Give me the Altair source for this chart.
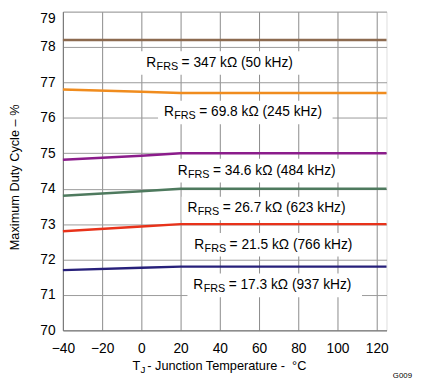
import altair as alt
import pandas as pd

# ---- data ----
temps = [-40, 0, 20, 125]
series_names = ["347 kΩ", "69.8 kΩ", "34.6 kΩ", "26.7 kΩ", "21.5 kΩ", "17.3 kΩ"]
duty_347 = [78.2, 78.2, 78.2, 78.2]
duty_698 = [76.8, 76.74, 76.7, 76.7]
duty_346 = [74.82, 74.93, 75.0, 75.0]
duty_267 = [73.8, 73.93, 74.0, 74.0]
duty_215 = [72.8, 72.93, 73.0, 73.0]
duty_173 = [71.7, 71.77, 71.8, 71.8]
series_colors = ["#8C6A4F", "#F08C1E", "#8B1C8B", "#4E7A5E", "#E8321A", "#27207A"]

NB = "\u00a0"
label_rest = ["= 347 kΩ (50 kHz)", "= 69.8 kΩ (245 kHz)", "= 34.6 kΩ (484 kHz)",
              "= 26.7 kΩ (623 kHz)", "= 21.5 kΩ (766 kHz)", "= 17.3 kΩ (937 kHz)"]
label_x = [2.5, 11.5, 18.5, 23.5, 27.0, 26.5]
label_y = [77.55, 76.15, 74.51, 73.44, 72.42, 71.27]
label_w_px = [152, 166, 166, 166, 166, 166]

x_ticks = [-40, -20, 0, 20, 40, 60, 80, 100, 120]
y_ticks = [70, 71, 72, 73, 74, 75, 76, 77, 78, 79]

W, H = 330, 325
px_per_x = W / 165.0
px_per_y = H / 9.0

all_duty = [duty_347, duty_698, duty_346, duty_267, duty_215, duty_173]
rows = []
for name, vals in zip(series_names, all_duty):
    for t, v in zip(temps, vals):
        rows.append({"series": name, "t": t, "d": v})
lines_df = pd.DataFrame(rows)

ann_df = pd.DataFrame({
    "x": label_x,
    "y": label_y,
    "rest": label_rest,
    "bx0": [x - 6 / px_per_x for x in label_x],
    "bx1": [x + (w + 6) / px_per_x for x, w in zip(label_x, label_w_px)],
    "by0": [y - 12 / px_per_y for y in label_y],
    "by1": [y + 12 / px_per_y for y in label_y],
})

FONT = "Liberation Sans"

xs = alt.Scale(domain=[-40, 125], nice=False, zero=False)
ys = alt.Scale(domain=[70, 79], nice=False, zero=False)

x_axis = alt.Axis(values=x_ticks, title=None, grid=True, gridColor="#8a8a8a",
                  ticks=False, labelFontSize=14, labelFont=FONT, labelColor="#000",
                  labelPadding=12, domainColor="#777", labelFlush=False, labelOverlap=False)
y_axis = alt.Axis(values=y_ticks, title=None, grid=True, gridColor="#9a9a9a",
                  ticks=False, labelFontSize=14, labelFont=FONT, labelColor="#000",
                  labelPadding=8, domainColor="#777", labelFlush=False, labelOverlap=False,
                  labelBaseline={"condition": {"test": "datum.value == 79", "value": "top"},
                                 "value": "middle"})


def X(f):
    return alt.X(f, type="quantitative", scale=xs, axis=x_axis)


def Y(f):
    return alt.Y(f, type="quantitative", scale=ys, axis=y_axis)


lines = alt.Chart(lines_df).mark_line(strokeWidth=2.5).encode(
    x=X("t"),
    y=Y("d"),
    color=alt.Color("series:N", scale=alt.Scale(domain=series_names, range=series_colors), legend=None),
    detail="series:N",
)

boxes = alt.Chart(ann_df).mark_rect(color="white").encode(
    x=X("bx0"), x2="bx1",
    y=Y("by0"), y2="by1",
)

r_main = alt.Chart(ann_df).mark_text(text="R", align="left", baseline="middle",
                                     fontSize=14, font=FONT, color="#000").encode(
    x=X("x"), y=Y("y"))
r_sub = alt.Chart(ann_df).mark_text(text="FRS", align="left", baseline="middle",
                                    fontSize=11, font=FONT, color="#000", dx=10.5, dy=4).encode(
    x=X("x"), y=Y("y"))
r_rest = alt.Chart(ann_df).mark_text(align="left", baseline="middle",
                                     fontSize=14, font=FONT, color="#000", dx=36).encode(
    x=X("x"), y=Y("y"), text="rest:N")

# axis titles (x title needs a subscript, so it is drawn as text)
one = ann_df.head(1)
xt1 = alt.Chart(one).mark_text(text="T", align="left", baseline="alphabetic",
                               fontSize=13, font=FONT, color="#000").encode(
    x=alt.value(71), y=alt.value(365))
xt2 = alt.Chart(one).mark_text(text="J", align="left", baseline="alphabetic",
                               fontSize=10, font=FONT, color="#000").encode(
    x=alt.value(79), y=alt.value(368))
xt3 = alt.Chart(one).mark_text(text=NB + "- Junction Temperature -" + NB + NB + "°C", align="left",
                               baseline="alphabetic", fontSize=13, font=FONT,
                               color="#000").encode(
    x=alt.value(86), y=alt.value(365))
yt = alt.Chart(one).mark_text(text="Maximum Duty Cycle – %", align="center",
                              baseline="middle", angle=270, fontSize=13, font=FONT,
                              color="#000").encode(
    x=alt.value(-49), y=alt.value(169))
gtag = alt.Chart(one).mark_text(text="G009", align="right", baseline="middle",
                                fontSize=8, font=FONT, color="#000").encode(
    x=alt.value(356), y=alt.value(372))

chart = alt.layer(lines, boxes, r_main, r_sub, r_rest, xt1, xt2, xt3, yt, gtag).properties(
    width=W, height=H,
    autosize=alt.AutoSizeParams(type="none"),
    padding={"left": 56, "top": 0, "right": 27, "bottom": 51},
).configure_view(stroke="#777", strokeWidth=1).configure(background="white")

chart.save("out.html", embed_options={"renderer": "svg", "actions": False})
